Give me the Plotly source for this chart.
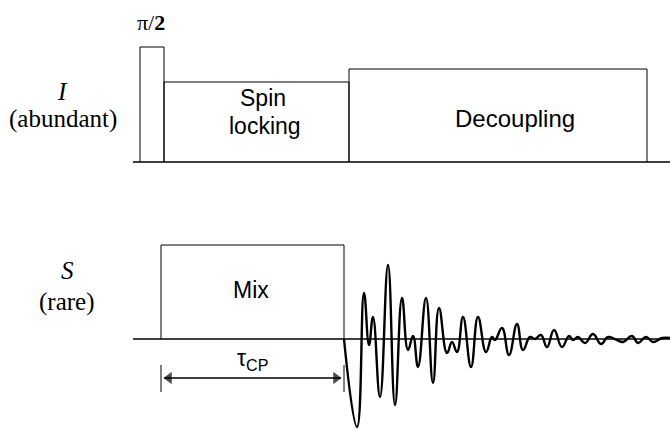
import plotly.graph_objects as go

# ---- diagram data (time axis in px-like units, amplitudes upward) ----
H = 430
I_BASE = 268            # I-channel baseline level
S_BASE = 91             # S-channel baseline level
LINE_START = 133
LINE_END = 670

i_block_start = [140, 164, 349]
i_block_end = [164, 349, 647]
i_block_height = [115, 80, 93]
i_block_labels = [[], ["Spin", "locking"], ["Decoupling"]]

s_block_start = [161]
s_block_end = [344]
s_block_height = [94]
s_block_labels = [["Mix"]]

# FID: time after end of contact, amplitude relative to baseline
fid_t = [0, 13, 20, 25, 29, 36, 44, 51, 58, 64, 69, 74, 82, 89, 95, 103, 108, 113,
         119, 127, 134, 142, 148, 151, 158, 165, 173, 179, 186, 191, 197, 203, 210,
         218, 225, 229, 234, 241, 249, 257, 264, 273, 279, 288, 294, 302, 309, 318, 326]
fid_a = [0, -88, 46, -6, 22, -58, 74, -66, 41, -11, 3, -28, 41, -44, 31, -14, -3, -13,
         22, -28, 22, -13, 2, -1, 11, -16, 15, -11, 2, 0, 4, -8, 9, -8, 3, -1, 2,
         -4, 5, -5, 2, -1, -3, 3, -4, 2, -3, 1, 1]

fid_x = [s_block_end[0] + t for t in fid_t]
fid_y = [S_BASE + a for a in fid_a]

fig = go.Figure()

def box(x0, x1, base, h):
    return [x0, x0, x1, x1], [base, base + h, base + h, base]

# baselines
for base in (I_BASE, S_BASE):
    fig.add_trace(go.Scatter(x=[LINE_START, LINE_END], y=[base, base], mode="lines",
                             line=dict(color="black", width=1.6), hoverinfo="skip"))

# I-channel blocks
for x0, x1, h in zip(i_block_start, i_block_end, i_block_height):
    xs, ys = box(x0, x1, I_BASE, h)
    fig.add_trace(go.Scatter(x=xs, y=ys, mode="lines",
                             line=dict(color="black", width=1), hoverinfo="skip"))
# S-channel block
for x0, x1, h in zip(s_block_start, s_block_end, s_block_height):
    xs, ys = box(x0, x1, S_BASE, h)
    fig.add_trace(go.Scatter(x=xs, y=ys, mode="lines",
                             line=dict(color="black", width=1), hoverinfo="skip"))

# FID
fig.add_trace(go.Scatter(x=fid_x, y=fid_y, mode="lines",
                         line=dict(color="black", width=2.4, shape="spline", smoothing=1.3),
                         hoverinfo="skip"))

# tau_CP ticks and double arrow
arrow_y = S_BASE - 39
for xv in (s_block_start[0], s_block_end[0]):
    fig.add_trace(go.Scatter(x=[xv, xv], y=[S_BASE - 26, S_BASE - 53], mode="lines",
                             line=dict(color="black", width=1), hoverinfo="skip"))
fig.add_trace(go.Scatter(x=[s_block_start[0] + 3, s_block_end[0] - 3], y=[arrow_y, arrow_y],
                         mode="lines", line=dict(color="black", width=1.6), hoverinfo="skip"))
fig.add_trace(go.Scatter(x=[s_block_start[0] + 8, s_block_end[0] - 8], y=[arrow_y, arrow_y],
                         mode="markers",
                         marker=dict(symbol=["triangle-left", "triangle-right"], size=[11, 11],
                                     color="black", line=dict(width=0)),
                         hoverinfo="skip"))

ann = []
sans = "Liberation Sans, Arial, sans-serif"
serif = "Liberation Serif, Times New Roman, serif"

# block labels (centre offsets relative to block centre)
label_y = {"Spin": H - 98, "locking": H - 126, "Decoupling": H - 118, "Mix": H - 290}
label_dx = {"Spin": 6, "locking": 8, "Decoupling": 17, "Mix": -2}
for x0, x1, labs in zip(i_block_start + s_block_start, i_block_end + s_block_end,
                        i_block_labels + s_block_labels):
    for lab in labs:
        ann.append(dict(x=(x0 + x1) / 2 + label_dx[lab], y=label_y[lab],
                        text=lab, showarrow=False,
                        font=dict(family=sans, size=23 if lab != "Decoupling" else 24,
                                  color="black")))

ann.append(dict(x=151, y=H - 22, text="π/<b>2</b>", showarrow=False,
                font=dict(family=serif, size=22, color="black")))
ann.append(dict(x=62, y=H - 91, text="<i>I</i>", showarrow=False,
                font=dict(family=serif, size=25, color="black")))
ann.append(dict(x=63, y=H - 119, text="(abundant)", showarrow=False,
                font=dict(family=serif, size=25, color="black")))
ann.append(dict(x=67, y=H - 270, text="<i>S</i>", showarrow=False,
                font=dict(family=serif, size=25, color="black")))
ann.append(dict(x=67, y=H - 302, text="(rare)", showarrow=False,
                font=dict(family=serif, size=25, color="black")))
ann.append(dict(x=(s_block_start[0] + s_block_end[0]) / 2, y=arrow_y + 19,
                text="τ<sub>CP</sub>", showarrow=False,
                font=dict(family=sans, size=23, color="black")))

fig.update_layout(
    width=670, height=430,
    margin=dict(l=0, r=0, t=0, b=0),
    paper_bgcolor="white", plot_bgcolor="white",
    showlegend=False,
    annotations=ann,
    xaxis=dict(range=[0, 670], visible=False, fixedrange=True),
    yaxis=dict(range=[0, 430], visible=False, fixedrange=True),
)

fig.write_html("out.html", config={"displayModeBar": False},
               post_script="document.body.style.margin='0';")
